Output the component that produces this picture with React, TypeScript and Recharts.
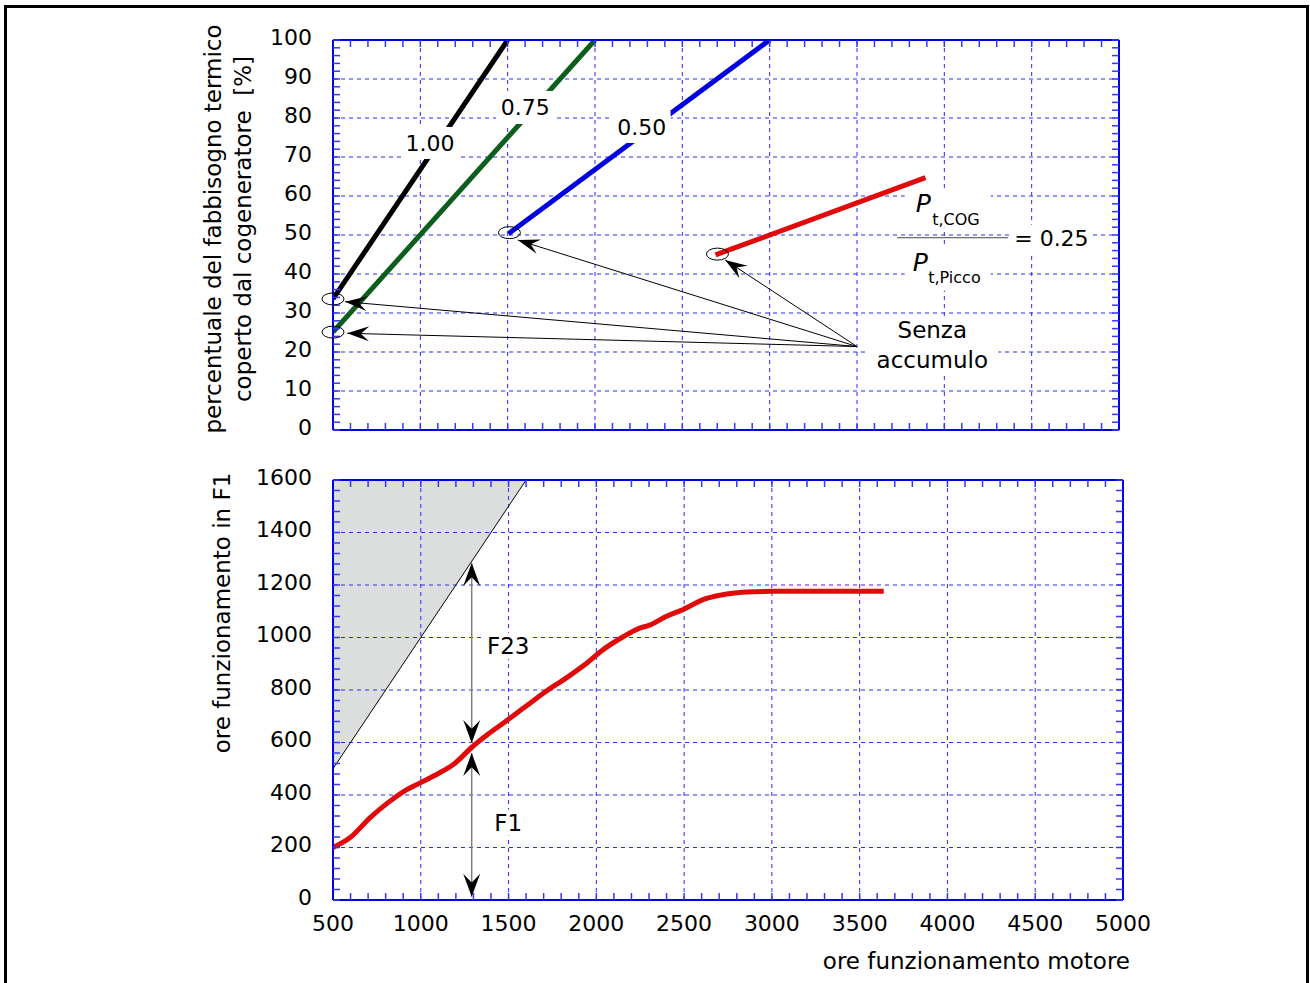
import React from 'react';
import {
  LineChart,
  ComposedChart,
  Line,
  Area,
  XAxis,
  YAxis,
  CartesianGrid,
  ReferenceDot,
  ReferenceLine,
  Label
} from 'recharts';

const FONT = '"DejaVu Sans", sans-serif';
const AXIS_BLUE = '#0000e6';
const GRID_BLUE = '#2a2aff';

// ---- top chart: % fabbisogno termico coperto vs ore funzionamento motore
const hoursRatio100 = [500, 1500];
const coverRatio100 = [33.6, 100];
const hoursRatio075 = [500, 2000];
const coverRatio075 = [25.1, 100];
const hoursRatio050 = [1504, 3000];
const coverRatio050 = [50.3, 100];
const hoursRatio025 = [2690, 3892];
const coverRatio025 = [44.9, 64.7];

const hourTicks = [500, 1000, 1500, 2000, 2500, 3000, 3500, 4000, 4500, 5000];
const coverTicks = [0, 10, 20, 30, 40, 50, 60, 70, 80, 90, 100];

// ---- bottom chart: ore funzionamento in F1
const hoursMotor = [500, 596, 715, 810, 906, 1002, 1097, 1193, 1288, 1384, 1479, 1599, 1718, 1838, 1933, 2029, 2148, 2243, 2303, 2397, 2495, 2615, 2712, 2856, 3000, 3637];
const hoursF1 = [200, 237, 316, 369, 415, 448, 481, 520, 580, 632, 678, 738, 797, 850, 896, 949, 1001, 1035, 1047, 1080, 1107, 1146, 1162, 1173, 1176, 1176];
const shadeHours = [500, 1600];
const shadeLow = [500, 1600];
const shadeHigh = [1600, 1600];
const f1Ticks = [0, 200, 400, 600, 800, 1000, 1200, 1400, 1600];

const zip = (xs: number[], ys: number[]) => xs.map((x, i) => ({ x, y: ys[i] }));
const steps = (from: number, to: number, step: number) => {
  const out: number[] = [];
  for (let v = from; v <= to + 1e-9; v += step) out.push(Math.round(v));
  return out;
};

const hourMinor = steps(500, 5000, 100);
const coverMinor = steps(0, 100, 2);
const f1Minor = steps(0, 1600, 40);

const line100 = zip(hoursRatio100, coverRatio100);
const line075 = zip(hoursRatio075, coverRatio075);
const line050 = zip(hoursRatio050, coverRatio050);
const line025 = zip(hoursRatio025, coverRatio025);
const f1Line = zip(hoursMotor, hoursF1);
const diagLine = zip(shadeHours, shadeLow);
const shadeData = shadeHours.map((x, i) => ({ x, range: [shadeLow[i], shadeHigh[i]] }));

const axisStyle = { stroke: AXIS_BLUE, strokeWidth: 2 };
const minorTickLine = { stroke: '#3535ff', strokeWidth: 1.5 };

const noTick = () => <g />;

const yTick = (p: any) => (
  <text x={p.x} y={p.y + 4.5} textAnchor="end" fontFamily={FONT} fontSize={22} fill="#000">
    {p.payload.value}
  </text>
);

const xTick = (p: any) => (
  <text x={p.x} y={p.y + 31} textAnchor="middle" fontFamily={FONT} fontSize={22} fill="#000">
    {p.payload.value}
  </text>
);

const topTitle = (p: any) => {
  const vb = p.viewBox;
  const cy = vb.y + vb.height / 2 - 6;
  const x1 = 221;
  const x2 = 251;
  return (
    <g fontFamily={FONT} fontSize={23} fill="#000">
      <text x={x1} y={cy} textAnchor="middle" transform={`rotate(-90 ${x1} ${cy})`}>
        percentuale del fabbisogno termico
      </text>
      <text x={x2} y={cy} textAnchor="middle" transform={`rotate(-90 ${x2} ${cy})`} style={{ whiteSpace: 'pre' }}>
        {'coperto dal cogeneratore  [%]'}
      </text>
    </g>
  );
};

const bottomTitle = (p: any) => {
  const vb = p.viewBox;
  const cy = vb.y + vb.height / 2 - 77;
  const x = 230;
  return (
    <text x={x} y={cy} textAnchor="middle" transform={`rotate(-90 ${x} ${cy})`} fontFamily={FONT} fontSize={23} fill="#000">
      ore funzionamento in F1
    </text>
  );
};

const xTitle = (p: any) => {
  const vb = p.viewBox;
  return (
    <text x={1130} y={vb.y + 69} textAnchor="end" fontFamily={FONT} fontSize={23} fill="#000">
      ore funzionamento motore
    </text>
  );
};

const boxedText = (text: string, w: number, h: number, size = 22) => (p: any) => (
  <g>
    <rect x={p.cx - w / 2} y={p.cy - h / 2} width={w} height={h} fill="#fff" />
    <text x={p.cx} y={p.cy + size * 0.36} textAnchor="middle" fontFamily={FONT} fontSize={size} fill="#000">
      {text}
    </text>
  </g>
);

const ellipseShape = (p: any) => (
  <ellipse cx={p.cx} cy={p.cy} rx={11} ry={6} fill="none" stroke="#000" strokeWidth={1} />
);

const senzaShape = (p: any) => (
  <g fontFamily={FONT} fontSize={23} fill="#000" textAnchor="middle">
    <rect x={p.cx - 66} y={p.cy - 29} width={132} height={58} fill="#fff" />
    <text x={p.cx} y={p.cy - 15 + 8.3}>Senza</text>
    <text x={p.cx} y={p.cy + 15 + 8.3}>accumulo</text>
  </g>
);

const fractionShape = (p: any) => {
  const { cx, cy } = p;
  return (
    <g fontFamily={FONT} fill="#000">
      <rect x={cx - 48} y={cy - 48} width={86} height={38} fill="#fff" />
      <rect x={cx - 48} y={cy + 9} width={86} height={44} fill="#fff" />
      <rect x={cx + 58} y={cy - 13} width={82} height={28} fill="#fff" />
      <line x1={cx - 55.5} y1={cy} x2={cx + 55.5} y2={cy} stroke="#444" strokeWidth={1} />
      <text x={cx - 37} y={cy - 25.7} fontSize={25} fontStyle="italic">P</text>
      <text x={cx - 20.5} y={cy - 12.5} fontSize={16}>t,COG</text>
      <text x={cx - 40} y={cy + 33.3} fontSize={25} fontStyle="italic">P</text>
      <text x={cx - 24.5} y={cy + 45.6} fontSize={16}>t,Picco</text>
      <text x={cx + 61.5} y={cy + 8.3} fontSize={22}>= 0.25</text>
    </g>
  );
};

const headPoints = (x1: number, y1: number, x2: number, y2: number, len: number, half: number) => {
  const d = Math.hypot(x2 - x1, y2 - y1) || 1;
  const ux = (x2 - x1) / d;
  const uy = (y2 - y1) / d;
  const bx = x2 - ux * len;
  const by = y2 - uy * len;
  const ix = x2 - ux * len * 0.62;
  const iy = y2 - uy * len * 0.62;
  return `${x2},${y2} ${bx - uy * half},${by + ux * half} ${ix},${iy} ${bx + uy * half},${by - ux * half}`;
};

const pointerShape = (p: any) => (
  <g>
    <line x1={p.x1} y1={p.y1} x2={p.x2} y2={p.y2} stroke="#000" strokeWidth={1} />
    <polygon points={headPoints(p.x1, p.y1, p.x2, p.y2, 22, 7.5)} fill="#000" />
  </g>
);

const doubleArrowShape = (p: any) => (
  <g>
    <line x1={p.x1} y1={p.y1} x2={p.x2} y2={p.y2} stroke="#808080" strokeWidth={1.5} />
    <polygon points={headPoints(p.x1, p.y1, p.x2, p.y2, 23, 8.5)} fill="#000" />
    <polygon points={headPoints(p.x2, p.y2, p.x1, p.y1, 23, 8.5)} fill="#000" />
  </g>
);

const senzaOrigin = { x: 3500, y: 21.4 };
const pointerTips = [
  { x: 569, y: 32.9 },
  { x: 581, y: 24.8 },
  { x: 1558, y: 48.7 },
  { x: 2745, y: 43.6 }
];
const startMarks = [
  { x: 500, y: 33.6 },
  { x: 500, y: 25.1 },
  { x: 1510, y: 50.6 },
  { x: 2701, y: 45.1 }
];

const TopChart = () => (
  <LineChart width={1310} height={440} margin={{ top: 40, right: 191, bottom: 9, left: 332 }}>
    <CartesianGrid stroke={GRID_BLUE} strokeDasharray="4 4" strokeWidth={1} />
    <XAxis dataKey="x" type="number" domain={[500, 5000]} ticks={hourTicks} interval={0} height={1}
      tick={noTick} tickLine={false} tickSize={0} axisLine={axisStyle} allowDataOverflow />
    <XAxis xAxisId="topMinor" orientation="top" dataKey="x" type="number" domain={[500, 5000]} ticks={hourMinor}
      interval={0} mirror height={1} tick={noTick} tickSize={7} tickLine={minorTickLine} axisLine={axisStyle} allowDataOverflow />
    <XAxis xAxisId="bottomMinor" dataKey="x" type="number" domain={[500, 5000]} ticks={hourMinor}
      interval={0} mirror height={1} tick={noTick} tickSize={7} tickLine={minorTickLine} axisLine={false} allowDataOverflow />
    <YAxis type="number" domain={[0, 100]} ticks={coverTicks} interval={0} width={1} tickLine={false}
      tickSize={0} tickMargin={21} tick={yTick} axisLine={axisStyle} allowDataOverflow>
      <Label content={topTitle} />
    </YAxis>
    <YAxis yAxisId="leftMinor" type="number" domain={[0, 100]} ticks={coverMinor} interval={0} width={1}
      mirror tick={noTick} tickSize={7} tickLine={minorTickLine} axisLine={false} allowDataOverflow />
    <YAxis yAxisId="rightMinor" orientation="right" type="number" domain={[0, 100]} ticks={coverMinor} interval={0}
      width={1} mirror tick={noTick} tickSize={7} tickLine={minorTickLine} axisLine={axisStyle} allowDataOverflow />

    <Line data={line100} dataKey="y" stroke="#000000" strokeWidth={5} dot={false} activeDot={false} isAnimationActive={false} />
    <Line data={line075} dataKey="y" stroke="#0c5e1c" strokeWidth={5} dot={false} activeDot={false} isAnimationActive={false} />
    <Line data={line050} dataKey="y" stroke="#0000e0" strokeWidth={5} dot={false} activeDot={false} isAnimationActive={false} />
    <Line data={line025} dataKey="y" stroke="#e00a0a" strokeWidth={5} dot={false} activeDot={false} isAnimationActive={false} />

    {startMarks.map((m, i) => (
      <ReferenceDot key={`m${i}`} x={m.x} y={m.y} shape={ellipseShape} zIndex={700} />
    ))}
    {pointerTips.map((t, i) => (
      <ReferenceLine key={`p${i}`} segment={[senzaOrigin, t]} shape={pointerShape} zIndex={700} />
    ))}
    <ReferenceDot x={1056} y={73.6} shape={boxedText('1.00', 54, 32)} zIndex={650} />
    <ReferenceDot x={1600} y={82.7} shape={boxedText('0.75', 58, 33)} zIndex={650} />
    <ReferenceDot x={2267} y={77.7} shape={boxedText('0.50', 58, 32)} zIndex={650} />
    <ReferenceDot x={3931} y={21.8} shape={senzaShape} zIndex={650} />
    <ReferenceDot x={4048} y={49.3} shape={fractionShape} zIndex={650} />
  </LineChart>
);

const BottomChart = () => (
  <ComposedChart width={1310} height={543} margin={{ top: 40, right: 187, bottom: 82, left: 332 }}>
    <Area data={shadeData} dataKey="range" type="linear" fill="#dcdede" fillOpacity={1} stroke="none"
      dot={false} activeDot={false} isAnimationActive={false} />
    <CartesianGrid stroke={GRID_BLUE} strokeDasharray="4 4" strokeWidth={1} zIndex={150} />
    <XAxis dataKey="x" type="number" domain={[500, 5000]} ticks={hourTicks} interval={0} height={1}
      tickLine={false} tickSize={0} tickMargin={0} tick={xTick} axisLine={axisStyle} allowDataOverflow>
      <Label content={xTitle} />
    </XAxis>
    <XAxis xAxisId="topMinor" orientation="top" dataKey="x" type="number" domain={[500, 5000]} ticks={hourMinor}
      interval={0} mirror height={1} tick={noTick} tickSize={7} tickLine={minorTickLine} axisLine={axisStyle} allowDataOverflow />
    <XAxis xAxisId="bottomMinor" dataKey="x" type="number" domain={[500, 5000]} ticks={hourMinor}
      interval={0} mirror height={1} tick={noTick} tickSize={7} tickLine={minorTickLine} axisLine={false} allowDataOverflow />
    <YAxis type="number" domain={[0, 1600]} ticks={f1Ticks} interval={0} width={1} tickLine={false}
      tickSize={0} tickMargin={21} tick={yTick} axisLine={axisStyle} allowDataOverflow>
      <Label content={bottomTitle} />
    </YAxis>
    <YAxis yAxisId="leftMinor" type="number" domain={[0, 1600]} ticks={f1Minor} interval={0} width={1}
      mirror tick={noTick} tickSize={7} tickLine={minorTickLine} axisLine={false} allowDataOverflow />
    <YAxis yAxisId="rightMinor" orientation="right" type="number" domain={[0, 1600]} ticks={f1Minor} interval={0}
      width={1} mirror tick={noTick} tickSize={7} tickLine={minorTickLine} axisLine={axisStyle} allowDataOverflow />

    <Line data={diagLine} dataKey="y" stroke="#000" strokeWidth={1} dot={false} activeDot={false} isAnimationActive={false} />
    <Line data={f1Line} dataKey="y" type="monotone" stroke="#e00a0a" strokeWidth={5} dot={false} activeDot={false} isAnimationActive={false} />

    <ReferenceLine segment={[{ x: 1290, y: 1284 }, { x: 1290, y: 598 }]} shape={doubleArrowShape} zIndex={700} />
    <ReferenceLine segment={[{ x: 1290, y: 560 }, { x: 1290, y: 12 }]} shape={doubleArrowShape} zIndex={700} />
    <ReferenceDot x={1498} y={968} shape={boxedText('F23', 48, 26, 23)} zIndex={650} />
    <ReferenceDot x={1498} y={295} shape={boxedText('F1', 36, 26, 23)} zIndex={650} />
  </ComposedChart>
);

export default function App() {
  return (
    <div style={{ position: 'absolute', left: 0, top: 0, width: 1310, height: 983, overflow: 'hidden', background: '#fff' }}>
      <div style={{ position: 'absolute', left: 4, top: 5, width: 1299, height: 1100, border: '3px solid #000' }} />
      <div style={{ position: 'absolute', left: 0, top: 0 }}>
        <TopChart />
      </div>
      <div style={{ position: 'absolute', left: 0, top: 440 }}>
        <BottomChart />
      </div>
    </div>
  );
}
